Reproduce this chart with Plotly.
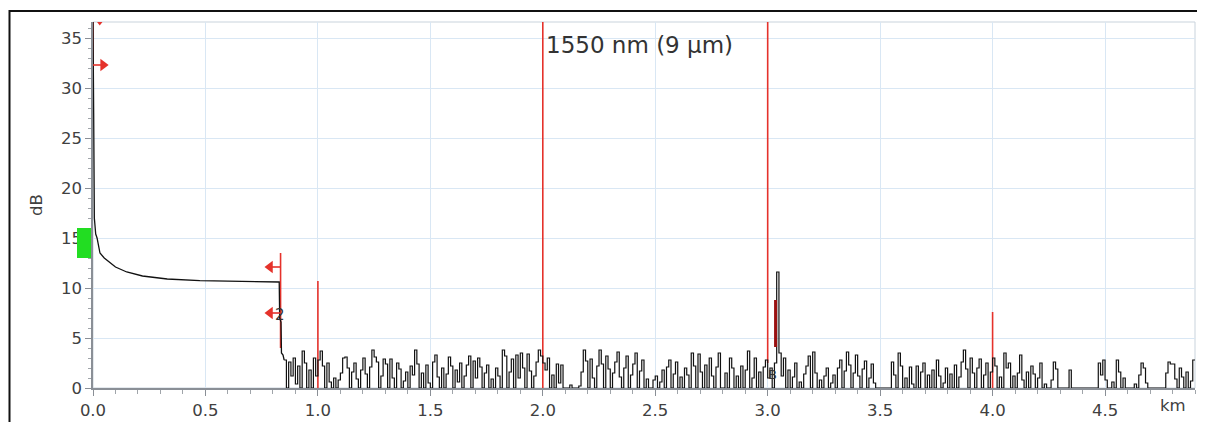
import plotly.graph_objects as go

# ---------------- data ----------------
# near-end part of the OTDR trace (km, dB)
near_km = [0.0, 0.0, 0.003, 0.003, 0.006, 0.008, 0.012, 0.018, 0.031, 0.05, 0.076, 0.1,
           0.15, 0.22, 0.33, 0.475, 0.6, 0.7, 0.823, 0.828, 0.830, 0.836, 0.838, 0.845, 0.85]
near_db = [36.6, 32.0, 30.5, 27.5, 17.0, 15.8, 15.4, 15.0, 13.5, 13.0, 12.5, 12.1,
           11.6, 11.2, 10.9, 10.73, 10.68, 10.65, 10.6, 10.6, 7.0, 6.6, 3.5, 3.3, 2.8]

# noise floor, one value every 0.01 km from 0.86 km to 4.90 km
noise_start_km = 0.86
noise_step_km = 0.01
noise_db = [
    0.0, 2.6, 1.2, 3.0,                                   # 0.86-0.89
    0.4, 2.2, 0.0, 3.7, 2.5, 0.0, 1.8, 0.0, 3.0, 1.2,     # 0.90
    2.8, 3.7, 2.2, 0.0, 2.5, 0.6, 0.0, 1.0, 0.0, 0.8,     # 1.00
    1.5, 3.0, 3.1, 2.0, 0.0, 1.6, 2.5, 0.9, 0.0, 1.8,     # 1.10
    3.0, 1.4, 0.0, 2.1, 3.8, 3.1, 2.6, 0.0, 1.2, 2.9,     # 1.20
    2.4, 0.0, 2.9, 1.0, 0.0, 2.5, 1.9, 0.0, 0.7, 1.6,     # 1.30
    0.0, 2.2, 1.3, 3.8, 2.4, 0.0, 1.5, 0.0, 2.3, 0.5,     # 1.40
    0.0, 2.6, 3.3, 1.1, 0.0, 2.0, 0.0, 1.4, 3.1, 2.2,     # 1.50
    0.0, 1.8, 0.6, 2.5, 0.0, 1.2, 2.3, 3.2, 0.0, 2.7,     # 1.60
    1.0, 3.0, 2.1, 0.0, 1.5, 2.3, 0.0, 0.9, 0.0, 2.0,     # 1.70
    1.2, 0.0, 3.8, 3.2, 0.0, 1.6, 2.9, 0.0, 3.3, 1.0,     # 1.80
    3.5, 2.0, 0.0, 3.4, 1.7, 0.0, 1.2, 2.6, 3.8, 3.2,     # 1.90
    2.5, 1.8, 3.0, 0.0, 1.3, 0.0, 2.4, 0.5, 2.3, 0.0,     # 2.00
    0.0, 0.0, 0.3, 0.0, 0.0, 0.0, 0.2, 1.6, 3.8, 2.7,     # 2.10
    0.0, 2.9, 1.0, 0.0, 2.2, 3.8, 2.4, 0.0, 3.2, 1.9,     # 2.20
    0.0, 1.5, 2.6, 3.6, 1.1, 0.0, 2.0, 3.2, 0.0, 1.3,     # 2.30
    2.4, 3.5, 0.0, 1.7, 2.8, 0.0, 0.9, 0.0, 0.0, 0.8,     # 2.40
    1.2, 0.0, 0.6, 1.8, 0.0, 2.1, 2.8, 0.0, 1.4, 2.6,     # 2.50
    0.0, 1.1, 0.0, 2.0, 1.3, 0.0, 3.5, 2.2, 0.0, 3.4,     # 2.60
    1.6, 0.0, 2.3, 0.0, 3.0, 1.2, 0.0, 2.1, 3.5, 0.0,     # 2.70
    0.0, 1.5, 0.0, 3.0, 2.0, 0.0, 1.2, 0.0, 2.2, 0.0,     # 2.80
    1.8, 3.7, 0.0, 1.0, 3.0, 0.0, 1.6, 0.0, 2.1, 2.8,     # 2.90
    1.0, 2.0, 0.0, 2.5, 11.6, 3.5, 1.2, 3.0, 0.0, 1.8,    # 3.00
    0.0, 1.1, 2.5, 0.0, 0.6, 0.0, 1.4, 2.2, 3.2, 0.0,     # 3.10
    3.6, 1.5, 0.0, 0.8, 0.0, 1.2, 2.0, 0.0, 0.5, 1.3,     # 3.20
    0.0, 2.0, 2.8, 0.0, 1.7, 3.6, 2.3, 0.0, 1.5, 3.3,     # 3.30
    1.2, 0.0, 1.9, 2.7, 0.0, 1.0, 2.4, 0.5, 0.0, 0.0,     # 3.40
    0.0, 0.0, 0.0, 0.0, 0.0, 2.6, 1.3, 0.0, 3.5, 2.2,     # 3.50
    0.0, 1.0, 0.0, 2.1, 0.4, 0.0, 2.2, 0.0, 1.6, 2.5,     # 3.60
    0.0, 1.3, 0.0, 1.8, 0.0, 2.8, 1.2, 0.0, 0.5, 2.0,     # 3.70
    0.0, 1.4, 0.0, 2.3, 0.0, 1.1, 2.6, 3.8, 1.9, 0.0,     # 3.80
    3.0, 1.5, 0.0, 2.0, 2.9, 0.0, 1.3, 2.5, 0.0, 1.6,     # 3.90
    3.0, 2.2, 0.0, 1.1, 0.0, 3.5, 2.0, 2.5, 0.0, 1.2,     # 4.00
    0.0, 1.5, 3.3, 0.8, 0.0, 1.6, 0.0, 2.2, 1.4, 0.0,     # 4.10
    1.0, 2.5, 0.0, 0.4, 0.0, 0.0, 0.8, 2.6, 1.9, 0.0,     # 4.20
    0.0, 0.0, 0.0, 0.0, 1.8, 0.0, 0.0, 0.0, 0.0, 0.0,     # 4.30
    0.0, 0.0, 0.0, 0.0, 0.0, 0.0, 0.0, 2.5, 1.3, 2.8,     # 4.40
    0.8, 0.0, 0.0, 0.6, 0.0, 2.8, 1.6, 0.0, 1.0, 0.0,     # 4.50
    0.0, 0.0, 0.0, 0.4, 0.0, 1.3, 2.5, 2.0, 0.5, 0.0,     # 4.60
    0.0, 0.0, 0.0, 0.0, 0.0, 0.0, 0.0, 1.5, 2.6, 2.4,     # 4.70
    2.4, 0.9, 0.0, 2.0, 1.1, 0.0, 1.6, 0.0, 0.7, 2.8,     # 4.80
    2.8,                                                  # 4.90
]

# event marker lines (km, top dB, bottom dB)
event_km = [0.0, 0.834, 1.0, 2.0, 3.0, 4.0]
event_top = [36.6, 13.5, 10.7, 36.6, 36.6, 7.6]
event_bottom = [31.0, 4.0, 0.0, 0.0, 2.5, 0.0]

# reflective event marker
refl_km = [3.035]
refl_top = [8.8]
refl_bottom = [4.1]

# cursor arrows: (tail km, head km, dB, symbol)
arrow_tail = [0.0, 0.834, 0.834]
arrow_head = [0.045, 0.787, 0.787]
arrow_db = [32.3, 12.1, 7.5]
arrow_symbol = ["triangle-right", "triangle-left", "triangle-left"]

# level marker (green block on y axis)
level_low_db = 13.0
level_high_db = 16.0

x_range = [0.0, 4.9]
y_range = [0.0, 36.6]
title_text = "1550 nm (9 µm)"

# ---------------- figure ----------------
noise_km = [round(noise_start_km + i * noise_step_km, 3) for i in range(len(noise_db))]

RED = "#e5322b"
AXIS_FONT = dict(family="Verdana, DejaVu Sans, sans-serif", size=16.5, color="#404040")

# page body has an 8px default margin: size the figure so the plot area lands
# where it is in the reference (plot area 1102 x 366 px)
FIG_W, FIG_H = 1197, 414
M_L, M_R, M_T, M_B = 85, 10, 14, 34
PLOT_W = FIG_W - M_L - M_R
PLOT_H = FIG_H - M_T - M_B

fig = go.Figure()

# event lines
ev_x, ev_y = [], []
for k, t, b in zip(event_km, event_top, event_bottom):
    ev_x += [k, k, None]
    ev_y += [t, b, None]
fig.add_trace(go.Scatter(x=ev_x, y=ev_y, mode="lines",
                         line=dict(color=RED, width=1.6), hoverinfo="skip"))

# trace
fig.add_trace(go.Scatter(x=near_km, y=near_db, mode="lines",
                         line=dict(color="#111111", width=1.3), hoverinfo="skip"))
fig.add_trace(go.Scatter(x=[near_km[-1]] + noise_km, y=[near_db[-1]] + noise_db,
                         mode="lines", line=dict(color="#111111", width=1.2, shape="hv"),
                         hoverinfo="skip"))

# reflective marker
rx, ry = [], []
for k, t, b in zip(refl_km, refl_top, refl_bottom):
    rx += [k, k, None]
    ry += [t, b, None]
fig.add_trace(go.Scatter(x=rx, y=ry, mode="lines",
                         line=dict(color="#9a1010", width=3), hoverinfo="skip"))

# arrows
for t, h, d, s in zip(arrow_tail, arrow_head, arrow_db, arrow_symbol):
    fig.add_trace(go.Scatter(x=[t, h], y=[d, d], mode="lines",
                             line=dict(color=RED, width=1.6), hoverinfo="skip"))
    fig.add_trace(go.Scatter(x=[h], y=[d], mode="markers",
                             marker=dict(symbol=s, size=11, color=RED), hoverinfo="skip",
                             cliponaxis=False))

# small marker at top
fig.add_trace(go.Scatter(x=[0.03], y=[y_range[1]], mode="markers",
                         marker=dict(symbol="triangle-down", size=7, color=RED),
                         hoverinfo="skip", cliponaxis=True))

# event labels
fig.add_annotation(x=0.83, y=7.3, text="2", showarrow=False,
                   font=dict(family="Verdana, DejaVu Sans", size=15, color="#333333"))
fig.add_annotation(x=3.02, y=1.4, text="B", showarrow=False,
                   font=dict(family="Verdana, DejaVu Sans", size=13, color="#333333"))
fig.add_annotation(x=2.005, y=34.3, text=title_text, showarrow=False, xanchor="left",
                   font=dict(family="Verdana, DejaVu Sans", size=23, color="#333333"))
fig.add_annotation(xref="paper", yref="paper", x=1080 / PLOT_W, y=-17 / PLOT_H, text="km",
                   showarrow=False, xanchor="center", yanchor="middle", font=AXIS_FONT)

# green level block (outside plot area, in domain units)
fig.add_shape(type="rect", xref="x domain", yref="y domain",
              x0=-16 / PLOT_W, x1=-2 / PLOT_W,
              y0=level_low_db / y_range[1], y1=level_high_db / y_range[1],
              fillcolor="#22dd22", line=dict(width=0), layer="above")

# light border of plotting area
fig.add_shape(type="rect", xref="x domain", yref="y domain", x0=0, x1=1, y0=0, y1=1,
              line=dict(color="#c9d3dc", width=1), layer="below")

# outer black frame
fig.add_shape(type="rect", xref="paper", yref="paper",
              x0=-(M_L - 1.5) / PLOT_W, x1=(PLOT_W + 5) / PLOT_W,
              y0=-60 / PLOT_H, y1=(PLOT_H + 11) / PLOT_H,
              line=dict(color="#111111", width=2), layer="above")

fig.update_xaxes(range=x_range, tick0=0, dtick=0.5, tickformat=".1f",
                 showgrid=True, gridcolor="#d9e7f4", gridwidth=1,
                 showline=True, linecolor="#8a8f96", linewidth=1.5,
                 ticks="outside", ticklen=6, tickcolor="#8a8f96",
                 minor=dict(dtick=0.1, ticks="outside", ticklen=4, tickcolor="#a0a5aa",
                            showgrid=False),
                 zeroline=False, tickfont=AXIS_FONT)
fig.update_yaxes(range=y_range, tick0=0, dtick=5,
                 showgrid=True, gridcolor="#d9e7f4", gridwidth=1,
                 showline=True, linecolor="#8a8f96", linewidth=1.5,
                 ticks="outside", ticklen=6, tickcolor="#8a8f96",
                 minor=dict(dtick=1, ticks="outside", ticklen=3, tickcolor="#a0a5aa",
                            showgrid=False),
                 zeroline=False, tickfont=AXIS_FONT,
                 title=dict(text="dB", font=AXIS_FONT, standoff=14))

fig.update_layout(width=FIG_W, height=FIG_H, showlegend=False, autosize=False,
                  margin=dict(l=M_L, r=M_R, t=M_T, b=M_B, autoexpand=False),
                  paper_bgcolor="white", plot_bgcolor="white")

fig.write_html("out.html")
